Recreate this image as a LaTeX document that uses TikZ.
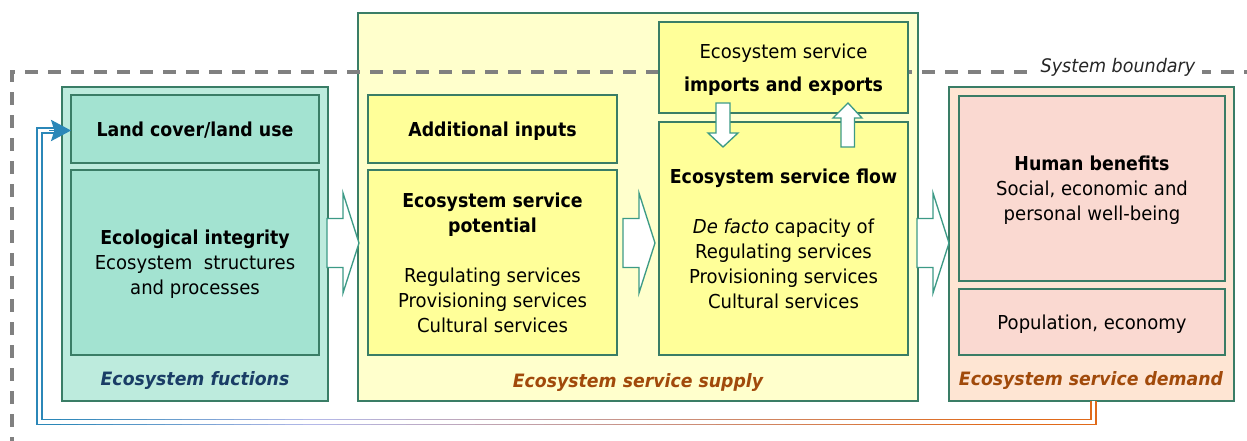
\documentclass[tikz,border=0pt]{standalone}
\usepackage{fontspec}
\setmainfont{DejaVu Sans}[FakeStretch=0.94, BoldFeatures={FakeStretch=0.905}]
\usetikzlibrary{calc,arrows.meta}
\definecolor{gout}{HTML}{BDEBDD}
\definecolor{gin}{HTML}{A3E3D1}
\definecolor{yout}{HTML}{FFFFCC}
\definecolor{yin}{HTML}{FFFF99}
\definecolor{dout}{HTML}{FEE5D3}
\definecolor{din}{HTML}{FAD9D1}
\definecolor{bord}{HTML}{3A7D66}
\definecolor{arrowc}{HTML}{3C9A86}
\definecolor{lblue}{HTML}{1A3D66}
\definecolor{lbrown}{HTML}{A14A0B}
\definecolor{dashc}{HTML}{808080}
\definecolor{fbblue}{HTML}{2B87B8}
\definecolor{fblav}{HTML}{B4B8E8}
\definecolor{fborange}{HTML}{E06A1A}
\newcommand\myblockarrow[2]{%
  \draw[barrow] (#1,#2-24.5) -- (#1+16,#2-24.5) -- (#1+16,#2-50) -- (#1+32,#2)
    -- (#1+16,#2+50) -- (#1+16,#2+24.5) -- (#1,#2+24.5) -- cycle;}
\begin{document}
\begin{tikzpicture}[x=0.75pt,y=-0.75pt,
  box/.style={draw=bord, line width=1.1pt, inner sep=0pt, outer sep=0pt,
    align=center, text depth=0pt, font=\fontsize{14.4}{18.75}\selectfont},
  lab/.style={font=\fontsize{13.8}{16}\selectfont\bfseries\itshape, inner sep=1pt},
  barrow/.style={draw=arrowc, fill=white, line width=1pt, line join=miter},
  boundary/.style={draw=dashc, line width=2.6pt, dash pattern=on 9.75pt off 7.5pt},
  fb/.style={double=white, double distance=2.5pt, line width=1.3pt}]
\useasboundingbox (0,0) rectangle (1247,441);
\clip (0,0) rectangle (1247,441);
% outer boxes
\node[box, fill=gout, minimum width=199.5pt, minimum height=235.5pt] (eco) at (195,244) {};
\node[box, fill=yout, minimum width=420pt, minimum height=291pt] (sup) at (638,207) {};
\node[box, fill=dout, minimum width=213.75pt, minimum height=235.5pt] (dem) at (1091.5,244) {};
% system boundary
\draw[boundary] (12,450) -- (12,72) -- (1260,72);
\node[fill=white, inner xsep=5pt, inner ysep=3pt,
  font=\fontsize{14}{16}\selectfont\itshape, text=black!85] (sb) at (1118,67) {System boundary};
% inner boxes
\node[box, fill=gin, minimum width=186pt, minimum height=51pt] (lc) at (195,129)
  {\textbf{Land cover/land use}};
\node[box, fill=gin, minimum width=186pt, minimum height=138.75pt] (ei) at (195,262.5)
  {\textbf{Ecological integrity}\\Ecosystem\ \ structures\\and processes};
\node[box, fill=yin, minimum width=186.75pt, minimum height=51pt] (ai) at (492.5,129)
  {\textbf{Additional inputs}};
\node[box, fill=yin, minimum width=186.75pt, minimum height=138.75pt] (pot) at (492.5,262.5)
  {\textbf{Ecosystem service}\\\textbf{potential}\\[18.75pt]Regulating services\\Provisioning services\\Cultural services};
\node[box, fill=yin, minimum width=186.75pt, minimum height=68.25pt] (imp) at (783.5,67.5)
  {Ecosystem service\\[6pt]\textbf{imports and exports}};
\node[box, fill=yin, minimum width=186.75pt, minimum height=174.75pt] (flow) at (783.5,238.5)
  {\textbf{Ecosystem service flow}\\[18.75pt]\textit{De facto} capacity of\\Regulating services\\Provisioning services\\Cultural services};
\node[box, fill=din, minimum width=199.5pt, minimum height=138.75pt] (hb) at (1092,188.5)
  {\textbf{Human benefits}\\Social, economic and\\personal well-being};
\node[box, fill=din, minimum width=199.5pt, minimum height=49.5pt] (pop) at (1092,322)
  {Population, economy};
% group labels
\node[lab, text=lblue] (lef) at (195,380) {Ecosystem fuctions};
\node[lab, text=lbrown] (les) at (638,382) {Ecosystem service supply};
\node[lab, text=lbrown] (led) at (1091,380) {Ecosystem service demand};
% block arrows
\myblockarrow{327}{243}
\myblockarrow{623}{243}
\myblockarrow{917}{243}
\draw[barrow] (716,103) -- (730,103) -- (730,133) -- (738,133) -- (723,147) -- (708,133) -- (716,133) -- cycle;
\draw[barrow] (848,103) -- (862,118) -- (854.5,118) -- (854.5,147) -- (841,147) -- (841,118) -- (833,118) -- cycle;
% feedback connector
\coordinate (fa) at ($(dem.south)+(2,0)$);
\coordinate (fc) at (39.5,422);
\coordinate (fd) at ($(lc.west)+(-14,1.5)$);
\coordinate (fe) at (1076,422);
\draw[fb, draw=fbblue] (fa) |- (fc) |- (fd);
\draw[fb, draw=fborange] (fa) |- (fe);
\foreach \i in {0,...,59}{
  \pgfmathsetmacro\xa{44+\i*17.2333}
  \pgfmathsetmacro\xb{44+(\i+1)*17.2333+0.4}
  \pgfmathtruncatemacro\pa{min(100,max(0,\i*6.667))}
  \pgfmathtruncatemacro\pb{min(100,max(0,(\i-15)*2.5))}
  \colorlet{cA}{fblav!\pa!fbblue}
  \colorlet{segc}{fborange!\pb!cA}
  \draw[fb, draw=segc] (\xa,422) -- (\xb,422);
}
\draw[fbblue, line width=1pt, -{Stealth[length=15pt,width=16pt,inset=2.5pt]}] ($(lc.west)+(-22,1.5)$) -- ($(lc.west)+(0,1.5)$);
\end{tikzpicture}
\end{document}
